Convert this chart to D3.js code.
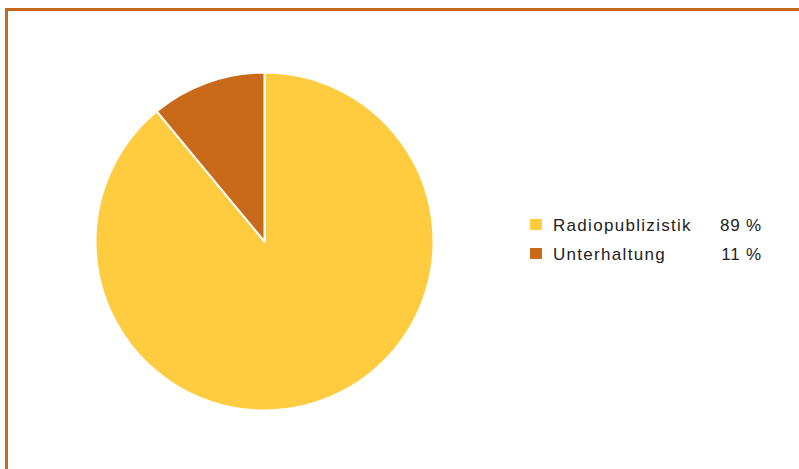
<!DOCTYPE html>
<html>
<head>
<meta charset="utf-8">
<script src="https://cdn.jsdelivr.net/npm/d3@7"></script>
<style>
  body { margin: 0; background: #fff; }
  svg { display: block; }
</style>
</head>
<body>
<div id="vis"></div>
<script>
const categories = ["Radiopublizistik", "Unterhaltung"];
const shares = [89, 11];
const colors = ["#ffcc40", "#c86a1a"];

const width = 799, height = 469;

const svg = d3.select("#vis")
    .append("svg")
    .attr("width", width)
    .attr("height", height);

// frame, only top and left edges are visible
svg.append("rect")
    .attr("x", 6.5)
    .attr("y", 9.5)
    .attr("width", 1000)
    .attr("height", 1000)
    .attr("fill", "none")
    .attr("stroke", "#c8691b")
    .attr("stroke-width", 3);

const data = categories.map((c, i) => ({ name: c, value: shares[i], color: colors[i] }));

const pie = d3.pie()
    .sort(null)
    .value((d) => d.value);

const arc = d3.arc()
    .innerRadius(0)
    .outerRadius(169);

const g = svg.append("g")
    .attr("transform", "translate(264.5,241.5)");

g.selectAll("path")
    .data(pie(data))
    .enter()
    .append("path")
    .attr("d", arc)
    .attr("fill", (d) => d.data.color)
    .attr("stroke", "#fff")
    .attr("stroke-width", 2)
    .attr("stroke-linejoin", "round");

// legend
const legend = svg.append("g")
    .attr("font-family", "'Liberation Sans', Arial, sans-serif")
    .attr("font-size", 17)
    .attr("fill", "#222");

const row = legend.selectAll("g")
    .data(data)
    .enter()
    .append("g")
    .attr("transform", (d, i) => "translate(0," + (219 + i * 29) + ")");

row.append("rect")
    .attr("x", 530)
    .attr("y", 0)
    .attr("width", 12)
    .attr("height", 11)
    .attr("fill", (d) => d.color);

row.append("text")
    .attr("x", 553)
    .attr("y", 11.5)
    .attr("letter-spacing", 1.3)
    .text((d) => d.name);

row.append("text")
    .attr("x", 762)
    .attr("y", 11.5)
    .attr("text-anchor", "end")
    .attr("letter-spacing", 0.8)
    .text((d) => d.value + " %");
</script>
</body>
</html>
